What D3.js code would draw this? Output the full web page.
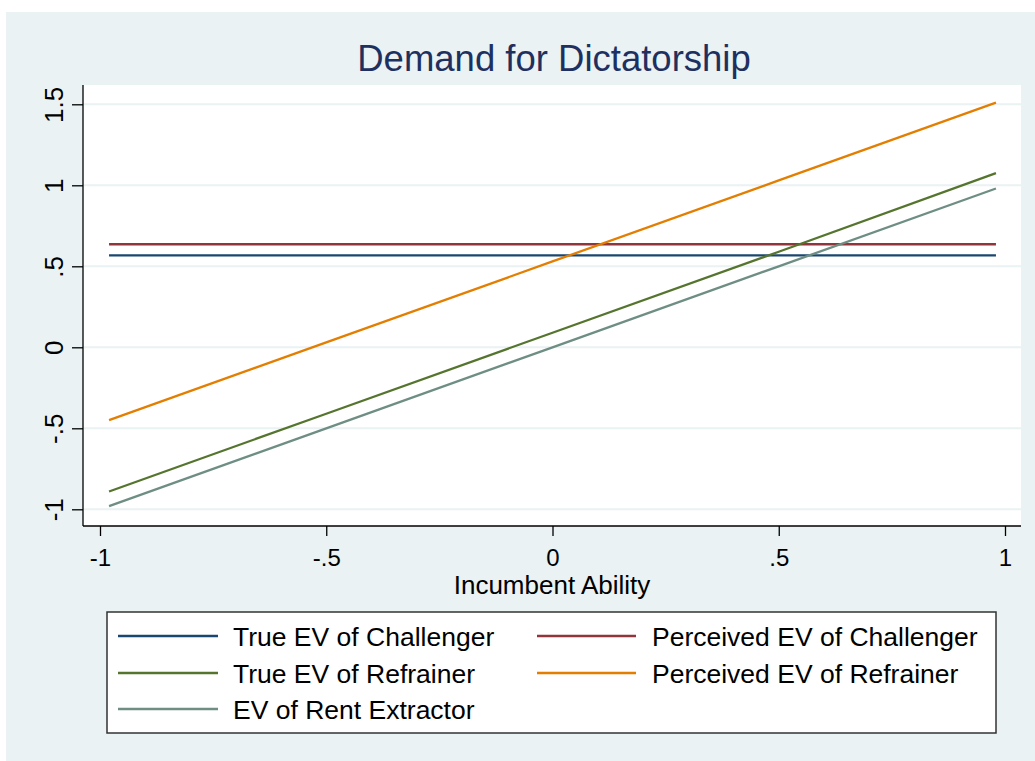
<!DOCTYPE html>
<html>
<head>
<meta charset="utf-8">
<script src="https://cdn.jsdelivr.net/npm/d3@7"></script>
<style>
  html, body { margin: 0; padding: 0; background: #ffffff; }
  svg { display: block; font-family: "Liberation Sans", Arial, sans-serif; }
</style>
</head>
<body>
<script>
// ---- Data ----
const xValues = [-0.98, -0.5, 0, 0.5, 0.98];
const trueEVChallenger = [0.568, 0.568, 0.568, 0.568, 0.568];
const perceivedEVChallenger = [0.636, 0.636, 0.636, 0.636, 0.636];
const trueEVRefrainer = [-0.89, -0.41, 0.09, 0.59, 1.075];
const perceivedEVRefrainer = [-0.45, 0.03, 0.53, 1.03, 1.51];
const evRentExtractor = [-0.98, -0.5, 0.0, 0.5, 0.98];

const seriesNames = ["True EV of Challenger", "Perceived EV of Challenger", "True EV of Refrainer", "Perceived EV of Refrainer", "EV of Rent Extractor"];
const seriesValues = [trueEVChallenger, perceivedEVChallenger, trueEVRefrainer, perceivedEVRefrainer, evRentExtractor];
const seriesColors = ["#1a476f", "#90353b", "#55752f", "#e37e00", "#6e8e84"];

const xTicks = [-1, -0.5, 0, 0.5, 1];
const xTickLabels = ["-1", "-.5", "0", ".5", "1"];
const yTicks = [-1, -0.5, 0, 0.5, 1, 1.5];
const yTickLabels = ["-1", "-.5", "0", ".5", "1", "1.5"];

const titleText = "Demand for Dictatorship";
const xTitle = "Incumbent Ability";

// ---- Layout ----
const W = 1035, H = 761;
const plot = { left: 83, right: 1021, top: 85, bottom: 526 };

const svg = d3.select("body").append("svg").attr("width", W).attr("height", H);

// outer background
svg.append("rect").attr("x", 6).attr("y", 12).attr("width", W - 6).attr("height", H - 12).attr("fill", "#eaf2f3");

// plot region
svg.append("rect").attr("x", plot.left).attr("y", plot.top)
  .attr("width", plot.right - plot.left).attr("height", plot.bottom - plot.top).attr("fill", "#ffffff");

const x = d3.scaleLinear().domain([-1, 1]).range([100, 1005]);
const y = d3.scaleLinear().domain([-1, 1.5]).range([509.3, 104.3]);

// gridlines
svg.append("g").selectAll("line").data(yTicks).join("line")
  .attr("x1", plot.left).attr("x2", plot.right)
  .attr("y1", d => y(d)).attr("y2", d => y(d))
  .attr("stroke", "#eaf2f3").attr("stroke-width", 2);

// series lines
const line = d3.line().x((d, i) => x(xValues[i])).y(d => y(d));
seriesValues.forEach((vals, k) => {
  svg.append("path").datum(vals).attr("d", line)
    .attr("fill", "none").attr("stroke", seriesColors[k]).attr("stroke-width", 2.3);
});

// Y axis
const yAxis = d3.axisLeft(y).tickValues(yTicks).tickSize(11).tickPadding(8)
  .tickFormat((d, i) => yTickLabels[i]);
const gy = svg.append("g").attr("transform", `translate(${plot.left},0)`).call(yAxis);
gy.select(".domain").attr("d", `M0,${plot.top}V${plot.bottom}`).attr("stroke", "#000").attr("stroke-width", 1.3);
gy.selectAll(".tick line").attr("stroke", "#000").attr("stroke-width", 1.3);
gy.selectAll(".tick text")
  .attr("font-size", 26).attr("fill", "#000")
  .attr("font-family", "Liberation Sans, Arial, sans-serif")
  .attr("text-anchor", "middle").attr("x", null).attr("dy", null)
  .attr("transform", "translate(-20,0) rotate(-90)")
  .attr("y", 0);

// X axis
const xAxis = d3.axisBottom(x).tickValues(xTicks).tickSize(10).tickPadding(6)
  .tickFormat((d, i) => xTickLabels[i]);
const gx = svg.append("g").attr("transform", `translate(0,${plot.bottom})`).call(xAxis);
gx.select(".domain").attr("d", `M${plot.left},0H${plot.right}`).attr("stroke", "#000").attr("stroke-width", 1.3);
gx.selectAll(".tick line").attr("stroke", "#000").attr("stroke-width", 1.3);
gx.selectAll(".tick text").attr("font-size", 24).attr("fill", "#000")
  .attr("font-family", "Liberation Sans, Arial, sans-serif")
  .attr("dy", null).attr("y", 40);

// axis title
svg.append("text").attr("x", (plot.left + plot.right) / 2).attr("y", 594)
  .attr("text-anchor", "middle").attr("font-size", 26).attr("fill", "#000").text(xTitle);

// chart title
svg.append("text").attr("x", 554).attr("y", 71)
  .attr("text-anchor", "middle").attr("font-size", 36.5).attr("fill", "#1e3060").text(titleText);

// legend
const leg = svg.append("g");
leg.append("rect").attr("x", 107).attr("y", 612).attr("width", 889).attr("height", 121)
  .attr("fill", "#ffffff").attr("stroke", "#333").attr("stroke-width", 1.5);
const legCols = [{ x1: 118, x2: 218, tx: 233 }, { x1: 537, x2: 636, tx: 652 }];
const legRows = [636, 673, 709];
seriesNames.forEach((name, k) => {
  const col = legCols[k % 2], ry = legRows[Math.floor(k / 2)];
  leg.append("line").attr("x1", col.x1).attr("x2", col.x2).attr("y1", ry).attr("y2", ry)
    .attr("stroke", seriesColors[k]).attr("stroke-width", 2.3);
  leg.append("text").attr("x", col.tx).attr("y", ry + 10).attr("font-size", 26.5)
    .attr("fill", "#000").text(name);
});
</script>
</body>
</html>
